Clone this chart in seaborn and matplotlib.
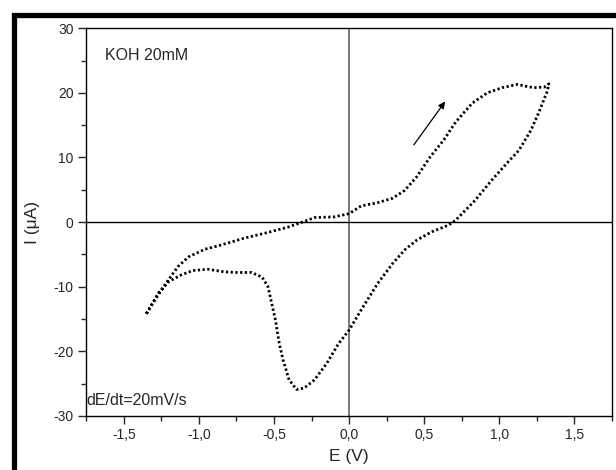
import numpy as np
import pandas as pd
import seaborn as sns
import matplotlib.pyplot as plt
from matplotlib.patches import Rectangle
from matplotlib.ticker import MultipleLocator, FuncFormatter

# Cyclic voltammogram, KOH 20mM
# forward scan (upper branch), E in V, I in uA
e_fwd = [-1.35, -1.30, -1.22, -1.14, -1.07, -0.96, -0.86, -0.70, -0.54, -0.41,
         -0.31, -0.23, -0.10, 0.00, 0.08, 0.19, 0.29, 0.37, 0.45, 0.54,
         0.63, 0.71, 0.82, 0.92, 1.02, 1.12, 1.18, 1.23, 1.30, 1.33]
i_fwd = [-14.2, -12.3, -9.5, -6.9, -5.4, -4.2, -3.6, -2.5, -1.6, -0.8,
         0.0, 0.7, 0.8, 1.3, 2.5, 3.0, 3.7, 4.9, 7.0, 10.1,
         12.7, 15.5, 18.4, 20.0, 20.8, 21.3, 21.0, 20.8, 20.9, 21.4]
# reverse scan (lower branch)
e_rev = [1.33, 1.32, 1.26, 1.21, 1.13, 1.05, 0.95, 0.84, 0.71, 0.66,
         0.55, 0.45, 0.37, 0.29, 0.19, 0.08, 0.00, -0.07, -0.15, -0.23,
         -0.30, -0.35, -0.40, -0.44, -0.465, -0.49, -0.52, -0.54, -0.58, -0.65,
         -0.75, -0.83, -0.94, -1.04, -1.12, -1.20, -1.27, -1.35]
i_rev = [21.4, 20.3, 16.8, 14.2, 11.1, 9.1, 6.5, 3.4, 0.3, -0.5,
         -1.5, -2.8, -4.3, -6.4, -9.5, -13.6, -16.7, -18.8, -21.9, -24.4,
         -25.7, -25.9, -24.4, -21.3, -18.8, -15.2, -12.1, -10.0, -8.5, -7.8,
         -7.8, -7.7, -7.3, -7.5, -8.2, -9.2, -11.0, -14.2]

df = pd.DataFrame({"E": e_fwd + e_rev, "I": i_fwd + i_rev})

sns.set_style("ticks")
plt.rcParams['font.family'] = ['Liberation Sans', 'DejaVu Sans']

fig = plt.figure(figsize=(6.16, 4.70), dpi=100)
ax = fig.add_axes([0.140, 0.115, 0.8535, 0.825])

# reference lines through the origin
ax.axvline(0, color="#707070", lw=1.3, zorder=1)
ax.axhline(0, color="black", lw=1.0, zorder=1)

sns.lineplot(data=df, x="E", y="I", sort=False, estimator=None, ax=ax,
             color="black", lw=2.0, linestyle=(0, (0.8, 0.9)), zorder=3)

ax.set_xlim(-1.75, 1.75)
ax.set_ylim(-30, 30)
ax.xaxis.set_major_locator(MultipleLocator(0.5))
ax.xaxis.set_minor_locator(MultipleLocator(0.25))
ax.yaxis.set_major_locator(MultipleLocator(10))
ax.yaxis.set_minor_locator(MultipleLocator(5))
ax.xaxis.set_major_formatter(FuncFormatter(lambda v, p: f"{v:.1f}".replace(".", ",")))
ax.yaxis.set_major_formatter(FuncFormatter(lambda v, p: f"{v:.0f}"))

ax.tick_params(which="major", direction="out", length=6, width=1, labelsize=10, pad=3)
ax.tick_params(which="minor", direction="out", length=3.5, width=1)
for s in ax.spines.values():
    s.set_linewidth(1.0)
    s.set_color("black")

ax.set_xlabel("E (V)", fontsize=12.5, labelpad=5)
ax.set_ylabel("I (\u03bcA)", fontsize=12.5, labelpad=10)

ax.text(0.035, 0.93, "KOH 20mM", transform=ax.transAxes, fontsize=11.5,
        va="center", ha="left")
ax.text(0.0, 0.04, "dE/dt=20mV/s", transform=ax.transAxes, fontsize=11.5,
        va="center", ha="left")

ax.annotate("", xy=(0.65, 19.0), xytext=(0.42, 11.6),
            arrowprops=dict(arrowstyle="-|>", color="black", lw=0.9,
                            mutation_scale=10))

# thick dark frame of the original screenshot
fig.add_artist(Rectangle((0.0235, -0.2), 1.3, 0.969 + 0.2, transform=fig.transFigure,
                         fill=False, edgecolor="black", lw=3.8, clip_on=False))

fig.savefig("out.png", dpi=100)
